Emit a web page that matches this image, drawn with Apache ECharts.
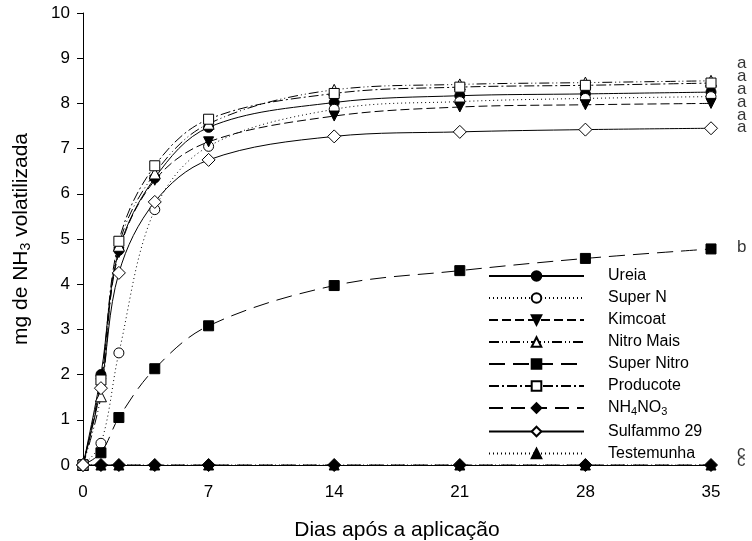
<!DOCTYPE html>
<html>
<head>
<meta charset="utf-8">
<script src="https://cdn.jsdelivr.net/npm/echarts@6/dist/echarts.min.js"></script>
<style>
  html, body { margin: 0; padding: 0; background: #fff; }
  #chart { width: 752px; height: 541px; }
</style>
</head>
<body>
<div id="chart"></div>
<script>
var days = [0, 1, 2, 4, 7, 14, 21, 28, 35];

var ureia      = [0, 2.0, 4.75, 6.35, 7.47, 8.02, 8.17, 8.21, 8.25];
var superN     = [0, 0.48, 2.48, 5.65, 7.05, 7.87, 8.04, 8.11, 8.15];
var kimcoat    = [0, 1.8, 4.7, 6.3, 7.15, 7.72, 7.92, 7.97, 8.0];
var nitroMais  = [0, 1.52, 4.85, 6.45, 7.55, 8.3, 8.42, 8.46, 8.5];
var superNitro = [0, 0.27, 1.05, 2.13, 3.08, 3.97, 4.3, 4.57, 4.78];
var producote  = [0, 1.88, 4.95, 6.62, 7.65, 8.22, 8.36, 8.4, 8.45];
var nh4no3     = [0, 0, 0, 0, 0, 0, 0, 0, 0];
var sulfammo   = [0, 1.7, 4.25, 5.82, 6.75, 7.27, 7.37, 7.42, 7.45];
var testemunha = [0, 0, 0, 0, 0, 0, 0, 0, 0];

// significance letters at day 35
var letters   = ['a', 'a', 'a', 'a', 'a', 'a', 'b', 'c', 'c'];
var letterPos = [8.89, 8.61, 8.32, 8.03, 7.74, 7.46, 4.82, 0.28, 0.08];

var font = 'Liberation Sans, Arial, sans-serif';

function pts(vals) {
  return days.map(function (d, i) { return [d, vals[i]]; });
}

function mk(name, vals, symbol, filled, dash, extra) {
  var s = {
    name: name,
    type: 'line',
    data: pts(vals),
    smooth: 0.35,
    symbol: symbol,
    symbolSize: 10,
    lineStyle: { color: '#000', width: 1, type: dash },
    itemStyle: filled
      ? { color: '#000', borderColor: '#000', borderWidth: 1 }
      : { color: '#fff', borderColor: '#000', borderWidth: 1 },
    emphasis: { disabled: true },
    animation: false
  };
  if (extra) Object.keys(extra).forEach(function (k) { s[k] = extra[k]; });
  return s;
}

var series = [
  mk('Testemunha', testemunha, 'triangle', true, [1, 3], { z: 1 }),
  mk('Ureia', ureia, 'circle', true, 'solid'),
  mk('Super N', superN, 'circle', false, [1, 3]),
  mk('Kimcoat', kimcoat, 'triangle', true, [9, 4], { symbolRotate: 180 }),
  mk('Nitro Mais', nitroMais, 'triangle', false, [10, 3, 1, 3, 1, 3], { symbolSize: 11 }),
  mk('Super Nitro', superNitro, 'rect', true, [16, 8]),
  mk('Producote', producote, 'rect', false, [10, 3, 2, 3]),
  mk('NH4NO3', nh4no3, 'diamond', true, [14, 8], { symbolSize: 13 }),
  mk('Sulfammo 29', sulfammo, 'diamond', false, 'solid', { symbolSize: 13 }),
  {
    name: 'letters',
    type: 'scatter',
    data: letterPos.map(function (v, i) { return [35, v, letters[i]]; }),
    symbolSize: 0,
    silent: true,
    z: 5,
    label: {
      show: true,
      position: 'right',
      distance: 26,
      color: '#000',
      fontFamily: font,
      fontSize: 17,
      formatter: function (p) { return p.data[2]; }
    },
    animation: false
  }
];

var legendOrder = ['Ureia', 'Super N', 'Kimcoat', 'Nitro Mais', 'Super Nitro',
                   'Producote', 'NH4NO3', 'Sulfammo 29', 'Testemunha'];

var chart = echarts.init(document.getElementById('chart'), null, { renderer: 'canvas' });
chart.setOption({
  animation: false,
  backgroundColor: '#fff',
  grid: { left: 83, right: 41, top: 13, bottom: 76, containLabel: false, outerBoundsMode: 'none' },
  xAxis: {
    type: 'value',
    min: 0, max: 35, interval: 7,
    name: 'Dias após a aplicação',
    nameLocation: 'middle',
    nameGap: 55,
    nameTextStyle: { fontFamily: font, fontSize: 21, color: '#000' },
    axisLine: { lineStyle: { color: '#000', width: 1 } },
    axisTick: { show: false },
    axisLabel: { margin: 19, fontFamily: font, fontSize: 17, color: '#000' },
    splitLine: { show: false }
  },
  yAxis: {
    type: 'value',
    min: 0, max: 10, interval: 1,
    name: 'mg de NH{sub|3} volatilizada',
    nameLocation: 'middle',
    nameGap: 50,
    nameTextStyle: {
      fontFamily: font, fontSize: 21, color: '#000',
      rich: { sub: { fontFamily: font, fontSize: 14, color: '#000', verticalAlign: 'bottom', padding: [10, 0, 0, 0] } }
    },
    axisLine: { show: true, lineStyle: { color: '#000', width: 1 } },
    axisTick: { show: true, inside: false, length: 6, lineStyle: { color: '#000' } },
    axisLabel: { margin: 13, fontFamily: font, fontSize: 17, color: '#000' },
    splitLine: { show: false }
  },
  legend: {
    data: legendOrder,
    orient: 'vertical',
    left: 483,
    top: 263,
    itemWidth: 95,
    itemHeight: 12,
    itemGap: 6,
    selectedMode: false,
    formatter: function (n) { return n === 'NH4NO3' ? 'NH{sub|4}NO{sub|3}' : n; },
    textStyle: {
      fontFamily: font, fontSize: 16, color: '#000',
      padding: [0, 0, 0, 19],
      rich: { sub: { fontFamily: font, fontSize: 11, color: '#000', padding: [8, 0, 0, 0] } }
    }
  },
  series: series
});
</script>
</body>
</html>
